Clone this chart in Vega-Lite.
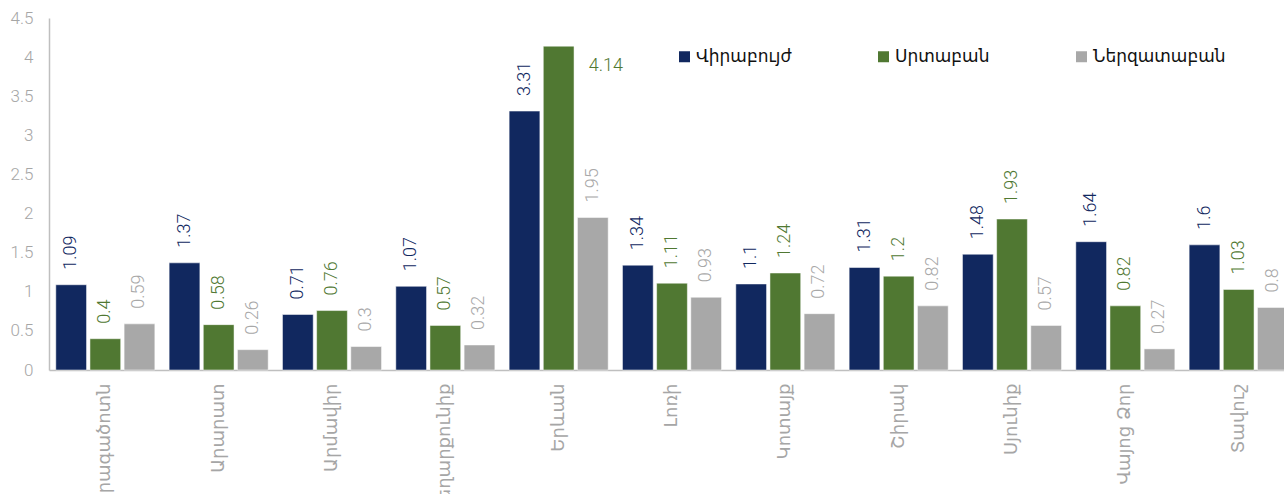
{
  "$schema": "https://vega.github.io/schema/vega-lite/v6.json",
  "autosize": {"type": "none"},
  "padding": {"left": 49, "top": 18, "right": 0, "bottom": 124},
  "width": 1246,
  "height": 352,
  "background": "white",
  "config": {
    "view": {"stroke": null},
    "font": "Roboto"
  },
  "data": {
    "values": [
      {"region": "Արագածոտն", "series": "Վիրաբույժ", "value": 1.09},
      {"region": "Արագածոտն", "series": "Սրտաբան", "value": 0.4},
      {"region": "Արագածոտն", "series": "Ներզատաբան", "value": 0.59},
      {"region": "Արարատ", "series": "Վիրաբույժ", "value": 1.37},
      {"region": "Արարատ", "series": "Սրտաբան", "value": 0.58},
      {"region": "Արարատ", "series": "Ներզատաբան", "value": 0.26},
      {"region": "Արմավիր", "series": "Վիրաբույժ", "value": 0.71},
      {"region": "Արմավիր", "series": "Սրտաբան", "value": 0.76},
      {"region": "Արմավիր", "series": "Ներզատաբան", "value": 0.3},
      {"region": "Գեղարքունիք", "series": "Վիրաբույժ", "value": 1.07},
      {"region": "Գեղարքունիք", "series": "Սրտաբան", "value": 0.57},
      {"region": "Գեղարքունիք", "series": "Ներզատաբան", "value": 0.32},
      {"region": "Երևան", "series": "Վիրաբույժ", "value": 3.31},
      {"region": "Երևան", "series": "Սրտաբան", "value": 4.14},
      {"region": "Երևան", "series": "Ներզատաբան", "value": 1.95},
      {"region": "Լոռի", "series": "Վիրաբույժ", "value": 1.34},
      {"region": "Լոռի", "series": "Սրտաբան", "value": 1.11},
      {"region": "Լոռի", "series": "Ներզատաբան", "value": 0.93},
      {"region": "Կոտայք", "series": "Վիրաբույժ", "value": 1.1},
      {"region": "Կոտայք", "series": "Սրտաբան", "value": 1.24},
      {"region": "Կոտայք", "series": "Ներզատաբան", "value": 0.72},
      {"region": "Շիրակ", "series": "Վիրաբույժ", "value": 1.31},
      {"region": "Շիրակ", "series": "Սրտաբան", "value": 1.2},
      {"region": "Շիրակ", "series": "Ներզատաբան", "value": 0.82},
      {"region": "Սյունիք", "series": "Վիրաբույժ", "value": 1.48},
      {"region": "Սյունիք", "series": "Սրտաբան", "value": 1.93},
      {"region": "Սյունիք", "series": "Ներզատաբան", "value": 0.57},
      {"region": "Վայոց Ձոր", "series": "Վիրաբույժ", "value": 1.64},
      {"region": "Վայոց Ձոր", "series": "Սրտաբան", "value": 0.82},
      {"region": "Վայոց Ձոր", "series": "Ներզատաբան", "value": 0.27},
      {"region": "Տավուշ", "series": "Վիրաբույժ", "value": 1.6},
      {"region": "Տավուշ", "series": "Սրտաբան", "value": 1.03},
      {"region": "Տավուշ", "series": "Ներզատաբան", "value": 0.8}
    ]
  },
  "encoding": {
    "x": {
      "field": "region", "type": "nominal", "sort": null,
      "scale": {"paddingInner": 0.126, "paddingOuter": 0.06},
      "axis": {
        "title": null, "labelAngle": -90, "ticks": false,
        "domainColor": "#BFBFBF", "domainWidth": 1.5,
        "labelColor": "#A6A6A6", "labelFontSize": 18, "labelFont": "DejaVu Sans",
        "labelPadding": 13, "labelLimit": 300
      }
    },
    "xOffset": {
      "field": "series", "type": "nominal",
      "sort": ["Վիրաբույժ", "Սրտաբան", "Ներզատաբան"],
      "scale": {"paddingInner": 0.1}
    },
    "y": {
      "field": "value", "type": "quantitative",
      "scale": {"domain": [0, 4.5], "nice": false},
      "axis": {
        "title": null, "grid": false, "ticks": false,
        "values": [0, 0.5, 1, 1.5, 2, 2.5, 3, 3.5, 4, 4.5],
        "format": "~g",
        "domainColor": "#BFBFBF", "domainWidth": 1.5,
        "labelColor": "#A6A6A6", "labelFontSize": 17, "labelFontWeight": 300, "labelPadding": 16
      }
    },
    "color": {
      "field": "series", "type": "nominal",
      "sort": ["Վիրաբույժ", "Սրտաբան", "Ներզատաբան"],
      "scale": {
        "domain": ["Վիրաբույժ", "Սրտաբան", "Ներզատաբան"],
        "range": ["#11285F", "#507832", "#A8A8A8"]
      },
      "legend": {
        "title": null, "orient": "none", "direction": "horizontal", "columns": 3,
        "legendX": 627, "legendY": 30, "padding": 0,
        "symbolType": "square", "symbolSize": 121, "symbolStrokeWidth": 0,
        "labelFontSize": 17, "labelColor": "#111111", "labelFont": "DejaVu Sans",
        "labelOffset": 3, "columnPadding": 83, "labelLimit": 300
      }
    }
  },
  "layer": [
    {"mark": {"type": "bar", "stroke": "white", "strokeWidth": 0.5}},
    {
      "transform": [{"filter": "datum.value < 4"}],
      "mark": {"type": "text", "angle": -90, "align": "left", "baseline": "middle", "dx": 15, "fontSize": 18, "fontWeight": 300},
      "encoding": {
        "text": {"field": "value", "type": "quantitative", "format": "~g"}
      }
    },
    {
      "transform": [{"filter": "datum.value >= 4"}],
      "mark": {"type": "text", "align": "left", "baseline": "middle", "dx": 30, "dy": 20, "fontSize": 18, "fontWeight": 300},
      "encoding": {
        "text": {"field": "value", "type": "quantitative", "format": "~g"}
      }
    }
  ]
}
